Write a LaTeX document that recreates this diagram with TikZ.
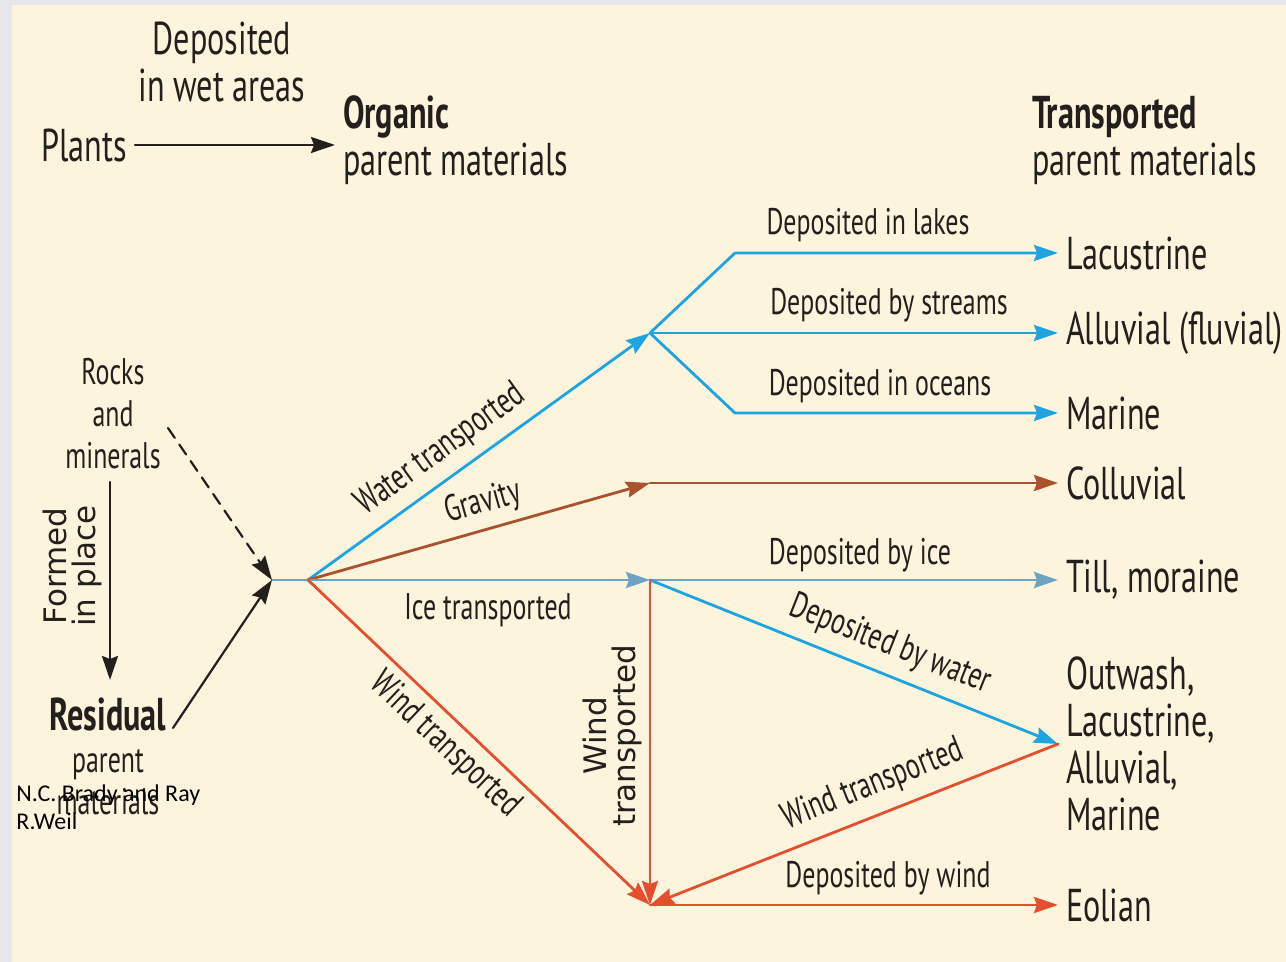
\documentclass[tikz,border=0pt]{standalone}
\usepackage{fontspec}
\setmainfont{PT Sans}[FakeStretch=0.7]
\newfontfamily\plainsans{DejaVu Sans}
\newfontfamily\notefont{Carlito}
\usetikzlibrary{arrows.meta}
\definecolor{paper}{RGB}{253,244,222}
\definecolor{frame}{RGB}{231,231,235}
\definecolor{ink}{RGB}{35,31,28}
\definecolor{waterblue}{RGB}{30,165,225}
\definecolor{iceblue}{RGB}{112,162,196}
\definecolor{gravbrown}{RGB}{168,82,46}
\definecolor{windred}{RGB}{228,80,46}
\begin{document}
\begin{tikzpicture}[x=0.5pt,y=-0.5pt,line cap=round,line join=round,
  big/.style={font=\fontsize{23}{23.5}\selectfont,text=ink,inner sep=0pt,outer xsep=4pt},
  lbl/.style={font=\fontsize{18.5}{21}\selectfont,text=ink,inner sep=0pt},
  side/.style={font=\plainsans\fontsize{15.5}{14.5}\selectfont,text=ink,inner sep=0pt},
  tip/.style={-{Stealth[length=12pt,width=8pt,inset=1.5pt]}},
  water/.style={tip,line width=1.4pt,waterblue},
  ice/.style={tip,line width=1.4pt,iceblue},
  grav/.style={tip,line width=1.4pt,gravbrown},
  wind/.style={tip,line width=1.4pt,windred},
  blk/.style={tip,line width=1.1pt,ink}]
  \useasboundingbox (0,0) rectangle (1286,962);
  \fill[frame] (0,0) rectangle (1286,962);
  \fill[paper] (12,5) rectangle (1286,962);

  \node[big,align=center] (wet) at (222,62) {Deposited\\in wet areas};
  \node[big,anchor=east] (plants) at (135,145) {Plants};
  \node[big,anchor=west,align=left] (organic) at (335,140) {\textbf{Organic}\\parent materials};
  \node[big,anchor=west,align=left] (transp) at (1024,141) {\textbf{Transported}\\parent materials};
  \draw[blk] (plants.east) -- (plants.east -| organic.west);

  \coordinate (src) at (272,580);
  \coordinate (fan) at (308,580);
  \coordinate (jw) at (650,333);
  \coordinate (jg) at (650,483);
  \coordinate (ji) at (650,580);
  \coordinate (je) at (650,905);

  \node[big,anchor=west] (lacus) at (1058,253) {Lacustrine};
  \node[big,anchor=west] (alluv) at (1058,333) {Alluvial (fluvial)};
  \node[big,anchor=west] (marine) at (1058,413) {Marine};
  \node[big,anchor=west] (coll) at (1058,483) {Colluvial};
  \node[big,anchor=west] (till) at (1058,580) {Till, moraine};
  \node[big,anchor=west,align=left] (outw) at (1058,744) {Outwash,\\Lacustrine,\\Alluvial,\\Marine};
  \node[big,anchor=west] (eol) at (1058,905) {Eolian};

  \draw[water] (fan) -- (jw);
  \draw[water] (jw) -- ++(85,-80) -- (lacus.west);
  \draw[water] (jw) -- (alluv.west);
  \draw[water] (jw) -- ++(85,80) -- (marine.west);
  \draw[grav] (fan) -- (jg);
  \draw[grav] (jg) -- (coll.west);
  \draw[ice] (src) -- (ji);
  \draw[ice] (ji) -- (till.west);
  \draw[water] (ji) -- (outw.west);
  \draw[wind] (outw.west) -- (je);
  \draw[wind] (ji) -- (je);
  \draw[wind] (fan) -- (je);
  \draw[wind] (je) -- (eol.west);

  \node[lbl] at (868,225) {Deposited in lakes};
  \node[lbl] at (889,305) {Deposited by streams};
  \node[lbl] at (880,386) {Deposited in oceans};
  \node[lbl] at (860,555) {Deposited by ice};
  \node[lbl] at (888,878) {Deposited by wind};
  \node[lbl] at (488,610) {Ice transported};
  \node[lbl,rotate=35.8] at (441,450) {Water transported};
  \node[lbl,rotate=15.8] at (483,503) {Gravity};
  \node[lbl,rotate=-43.5] at (445,745) {Wind transported};
  \node[side,rotate=90,align=center] at (612,736) {Wind\\transported};
  \node[lbl,rotate=-21.7] at (890,645) {Deposited by water};
  \node[lbl,rotate=21.8] at (873,785) {Wind transported};

  \node[lbl,align=center] (rocks) at (113,414) {Rocks\\and\\minerals};
  \node[lbl,align=center] (resid) at (108,756) {{\fontsize{23}{21.5}\selectfont\bfseries Residual}\\parent\\materials};
  \node[side,rotate=90,align=center] (formed) at (72,566) {Formed\\in place};
  \coordinate (rk) at (168,428);
  \coordinate (rs) at (173,728);
  \coordinate (fa) at (110,482);
  \coordinate (fb) at (110,680);
  \draw[blk,dash pattern=on 6pt off 4pt] (rk) -- (src);
  \draw[blk] (rs) -- (src);
  \draw[blk] (fa) -- (fb);

  \node[anchor=north west,align=left,inner sep=0pt,text=black,
    font=\notefont\fontsize{12}{14}\selectfont] (credit) at (16,784) {N.C. Brady and Ray\\R.Weil};
\end{tikzpicture}
\end{document}
